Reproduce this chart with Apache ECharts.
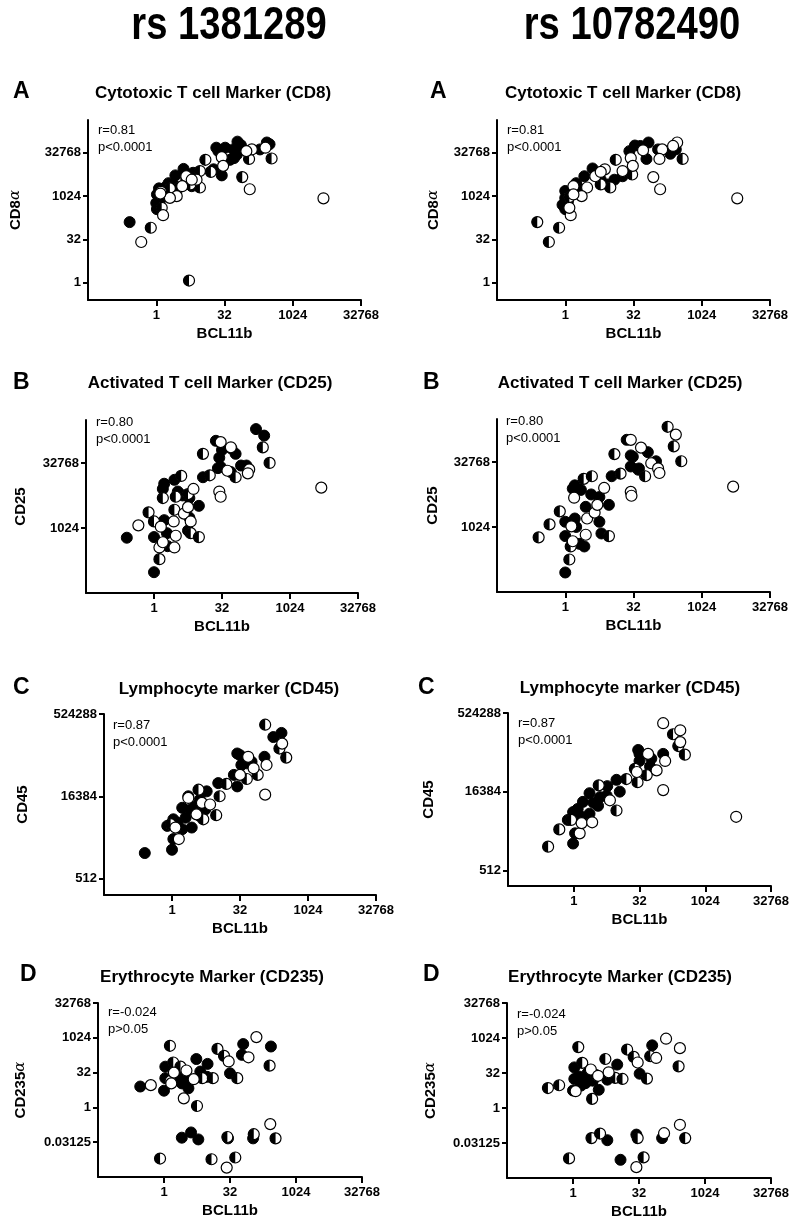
<!DOCTYPE html>
<html><head><meta charset="utf-8">
<script src="https://cdn.jsdelivr.net/npm/echarts@6/dist/echarts.min.js"></script>
<style>html,body{margin:0;padding:0;background:#fff}#c{width:800px;height:1228px}</style>
</head><body><div id="c"></div>
<script>
// All marker values are log2 of expression (axis labels show 2^value)
const snps = ['rs 1381289', 'rs 10782490'];
const panelLetters = ['A', 'B', 'C', 'D'];
const panelTitles = ['Cytotoxic T cell Marker (CD8)', 'Activated T cell Marker (CD25)', 'Lymphocyte marker (CD45)', 'Erythrocyte Marker (CD235)'];
const yNames = ['{b|CD8}{g|α}', '{b|CD25}', '{b|CD45}', '{b|CD235}{g|α}'];
const xName = 'BCL11b';
const stats = [['r=0.81', 'p<0.0001'], ['r=0.80', 'p<0.0001'], ['r=0.87', 'p<0.0001'], ['r=-0.024', 'p>0.05']];
const xTicks = [0, 5, 10, 15];
const yTicksA = [0, 5, 10, 15];
const yTicksB = [10, 15];
const yTicksC = [9, 14, 19];
const yTicksD = [-5, 0, 5, 10, 15];

// ---- A: CD8 ----
const A1_filled = [[-1.95,7.0],[4.8,12.4],[5.95,16.3],[8.1,16.2],[4.55,15.2],[5.05,15.6],[5.7,14.4],[5.65,15.4],[2.0,13.15],[1.4,12.4],[2.7,12.7],[0.3,10.6],[0.9,11.5],[0.65,11.0],[0.05,10.2],[0.0,9.2],[0.05,8.5],[0.25,9.4],[2.2,11.9],[2.6,11.15],[1.25,11.35],[4.2,13.1],[5.4,14.2],[5.9,14.8],[8.3,16.0],[4.4,15.6],[6.2,15.9],[0.5,10.0],[0.2,10.9],[1.0,10.4],[7.6,15.4]];
const A1_half = [[-0.4,6.35],[2.4,0.25],[6.3,12.2],[8.45,14.35],[3.6,14.2],[4.0,12.8],[3.2,12.9],[3.2,11.0],[1.65,11.0],[0.4,8.65],[2.5,11.35],[6.8,14.3],[1.0,10.9]];
const A1_open = [[-1.1,4.7],[12.25,9.75],[6.85,10.8],[7.0,15.4],[4.8,14.5],[4.9,13.5],[2.2,12.3],[2.95,11.9],[0.35,10.5],[1.5,10.0],[0.5,7.8],[1.0,9.8],[1.9,11.15],[2.6,11.9],[6.6,15.2],[8.0,15.6],[0.3,10.3]];
const A2_filled = [[6.1,16.2],[5.95,14.3],[7.7,14.9],[8.1,15.4],[6.8,15.4],[5.1,15.85],[4.7,15.2],[4.2,12.3],[3.6,11.9],[2.0,13.2],[1.4,12.3],[0.0,10.6],[0.0,9.8],[-0.2,9.0],[0.0,8.5],[0.8,11.5],[2.6,11.9],[3.1,11.35],[0.2,9.4],[0.5,10.4],[1.0,10.9],[5.5,15.8]];
const A2_half = [[-2.05,7.0],[-1.2,4.7],[-0.45,6.35],[8.6,14.3],[4.9,12.5],[3.7,14.2],[3.3,11.0],[2.6,11.35],[0.3,9.9]];
const A2_open = [[0.4,7.8],[12.6,9.75],[6.95,10.8],[6.45,12.2],[8.2,16.2],[7.1,15.4],[6.9,14.3],[5.7,15.3],[4.8,14.4],[4.95,13.5],[4.2,12.9],[2.9,13.1],[2.2,12.3],[0.6,11.15],[1.6,11.0],[1.2,10.0],[0.6,10.2],[2.6,12.8],[0.3,8.65],[7.9,15.8]];

// ---- B: CD25 ----
const B1_filled = [[-2.0,9.25],[0.0,6.6],[0.0,9.3],[0.75,10.6],[0.95,9.6],[0.65,13.0],[0.75,13.4],[1.5,13.7],[1.75,12.8],[2.1,12.5],[2.6,12.3],[2.6,10.8],[2.5,9.8],[3.3,11.7],[3.6,13.9],[4.55,16.7],[4.8,15.4],[4.9,14.7],[5.0,16.0],[5.7,16.1],[6.0,15.7],[5.65,14.3],[6.4,14.8],[6.8,14.8],[7.5,17.6],[8.1,17.1],[4.7,14.6],[1.0,8.6],[1.9,12.6]];
const B1_half = [[-0.4,11.2],[0.4,7.6],[0.0,10.5],[1.5,11.4],[0.65,12.3],[2.0,14.0],[2.5,12.6],[1.6,12.4],[2.7,9.6],[3.3,9.3],[3.6,15.7],[4.1,14.05],[6.0,13.9],[8.0,16.2],[8.5,15.0]];
const B1_open = [[-1.15,10.2],[0.4,8.5],[0.65,8.9],[0.5,10.1],[1.5,8.5],[1.6,9.4],[1.45,10.5],[2.2,11.1],[2.9,13.0],[2.5,11.6],[2.7,10.5],[4.9,16.6],[4.8,12.8],[4.9,12.4],[5.65,16.2],[5.4,14.4],[7.0,14.5],[6.9,14.2],[12.3,13.1]];
const B2_filled = [[0.0,6.5],[0.0,9.3],[0.0,10.4],[0.7,10.65],[0.8,10.0],[1.05,8.7],[1.4,8.5],[1.5,11.55],[0.7,13.2],[0.55,12.95],[1.15,12.85],[1.9,12.5],[2.5,12.3],[2.5,10.4],[2.65,9.5],[3.2,11.7],[3.4,13.9],[4.5,16.7],[4.8,15.5],[4.8,14.65],[5.4,14.5],[6.05,15.75],[6.65,15.05],[5.35,14.4],[4.95,15.4]];
const B2_half = [[-1.95,9.2],[-1.15,10.2],[-0.4,11.2],[0.3,7.5],[0.4,8.5],[1.35,13.7],[1.95,13.9],[3.2,9.3],[3.6,15.6],[4.05,14.1],[5.85,13.9],[7.5,17.7],[7.95,16.2],[8.5,15.05]];
const B2_open = [[0.55,8.9],[0.45,10.05],[1.5,9.4],[1.6,10.65],[2.15,11.1],[0.65,12.25],[2.85,13.0],[2.35,11.7],[4.8,16.7],[4.8,12.7],[4.85,12.4],[5.55,16.1],[6.3,14.9],[6.8,14.5],[6.9,14.15],[8.1,17.1],[12.3,13.1]];

// ---- C: CD45 ----
const C1_filled = [[-2.0,10.55],[0.0,10.75],[0.1,11.4],[-0.35,12.2],[0.1,12.6],[0.75,12.0],[0.75,13.3],[1.0,12.7],[1.45,12.1],[1.2,14.0],[1.7,13.4],[2.05,13.8],[2.55,14.3],[2.45,13.2],[3.4,14.8],[4.8,14.6],[4.55,15.3],[5.0,16.5],[4.8,16.6],[5.1,15.9],[5.5,16.0],[5.85,16.1],[6.8,16.4],[7.45,17.6],[8.05,17.85],[1.35,13.2],[2.05,12.8],[0.4,12.4]];
const C1_half = [[-0.1,12.3],[1.95,14.4],[2.3,12.6],[3.25,12.85],[3.5,14.0],[4.0,14.75],[5.5,15.05],[6.3,15.3],[6.85,18.35],[7.9,16.9],[8.4,16.35]];
const C1_open = [[0.5,11.4],[0.25,12.1],[1.2,13.9],[2.2,13.6],[2.8,13.5],[5.0,15.3],[5.6,16.4],[6.0,15.7],[6.95,15.9],[6.85,14.1],[8.1,17.2],[1.8,12.9]];
const C2_filled = [[-0.05,10.7],[0.1,11.35],[-0.45,12.2],[-0.05,12.7],[0.6,12.4],[1.2,12.6],[0.7,13.35],[1.2,13.9],[2.0,13.65],[2.5,13.75],[2.55,14.35],[1.85,13.1],[3.5,14.0],[3.25,14.75],[4.9,16.65],[5.0,16.4],[5.0,15.95],[5.9,16.1],[6.8,16.4],[5.8,15.6],[0.3,12.9],[1.5,13.3]];
const C2_half = [[-1.95,10.5],[-1.1,11.6],[-0.2,12.2],[1.9,14.4],[3.25,12.8],[4.0,14.8],[4.85,14.6],[4.65,15.45],[5.55,15.05],[7.55,17.65],[7.95,16.9],[8.45,16.35]];
const C2_open = [[0.45,11.35],[0.6,12.0],[1.4,12.05],[2.75,13.45],[4.8,15.25],[5.65,16.4],[6.95,15.95],[6.3,15.35],[6.8,14.1],[6.8,18.35],[8.1,17.9],[8.1,17.15],[12.35,12.4]];

// ---- D: CD235 ----
const D1_filled = [[-1.8,3.0],[0.1,5.85],[0.1,4.2],[0.0,2.4],[1.0,4.4],[1.35,3.45],[1.85,2.75],[1.6,4.2],[2.45,6.95],[2.75,5.15],[3.3,6.25],[3.25,4.4],[5.0,4.9],[6.0,9.1],[5.9,7.55],[8.1,8.75],[1.35,-4.35],[2.05,-3.6],[2.6,-4.6],[4.85,-4.45],[6.75,-4.45],[1.2,3.8]];
const D1_half = [[0.45,8.85],[0.7,6.45],[1.25,5.85],[2.5,0.2],[2.9,4.2],[3.7,4.2],[4.05,8.4],[4.55,7.4],[5.55,4.2],[8.0,6.0],[4.8,-4.25],[6.8,-3.85],[8.45,-4.45],[-0.3,-7.35],[3.6,-7.45],[5.4,-7.2]];
const D1_open = [[-1.0,3.2],[0.5,3.8],[0.75,5.0],[0.55,3.45],[1.5,1.3],[1.7,5.3],[2.25,4.05],[4.9,6.6],[6.4,7.2],[7.0,10.1],[8.05,-2.4],[4.75,-8.65]];
const D2_filled = [[0.1,5.8],[0.1,4.15],[0.0,2.5],[0.45,4.5],[0.95,3.55],[1.1,5.0],[1.95,2.6],[2.6,4.05],[3.35,6.2],[5.05,4.9],[6.0,8.95],[2.6,-4.6],[4.8,-3.8],[6.75,-4.3],[3.6,-7.4],[0.6,3.2],[1.5,3.9]];
const D2_half = [[-1.9,2.85],[-1.05,3.25],[0.4,8.7],[0.7,6.45],[1.45,1.3],[1.7,4.75],[2.45,7.0],[3.2,4.3],[3.75,4.15],[4.1,8.35],[4.6,7.3],[5.6,4.2],[5.85,7.4],[8.0,5.95],[1.4,-4.3],[2.05,-3.65],[4.9,-4.3],[8.5,-4.3],[-0.3,-7.2],[5.35,-7.05]];
const D2_open = [[0.2,2.4],[1.35,5.5],[2.7,5.1],[4.9,6.5],[6.3,7.15],[7.05,9.9],[8.1,8.55],[8.1,-2.4],[6.9,-3.6],[4.8,-8.45],[1.9,4.6]];

// ---- layout (positions only) ----
const panels = [
  {row:0, col:0, grid:{left:88, top:120, width:273, height:180}, y:[-2,18.8], yt:yTicksA, gap:65, letter:[13,92], title:[213,93], stat:[98,130], d:[A1_filled,A1_half,A1_open]},
  {row:0, col:1, grid:{left:497, top:120, width:273, height:180}, y:[-2,18.8], yt:yTicksA, gap:56, letter:[430,92], title:[623,93], stat:[507,130], d:[A2_filled,A2_half,A2_open]},
  {row:1, col:0, grid:{left:86, top:420, width:272, height:173}, y:[5,18.3], yt:yTicksB, gap:58, letter:[13,383], title:[210,383], stat:[96,422], d:[B1_filled,B1_half,B1_open]},
  {row:1, col:1, grid:{left:497, top:419, width:273, height:173}, y:[5,18.3], yt:yTicksB, gap:57, letter:[423,383], title:[620,383], stat:[506,421], d:[B2_filled,B2_half,B2_open]},
  {row:2, col:0, grid:{left:104, top:714, width:272, height:181}, y:[8,19], yt:yTicksC, gap:74, letter:[13,688], title:[229,689], stat:[113,725], d:[C1_filled,C1_half,C1_open]},
  {row:2, col:1, grid:{left:508, top:713, width:263, height:173}, y:[8,19], yt:yTicksC, gap:72, letter:[418,688], title:[630,688], stat:[518,723], d:[C2_filled,C2_half,C2_open]},
  {row:3, col:0, grid:{left:98, top:1003, width:264, height:174}, y:[-10,15], yt:yTicksD, gap:70, letter:[20,975], title:[212,977], stat:[108,1012], d:[D1_filled,D1_half,D1_open]},
  {row:3, col:1, grid:{left:507, top:1003, width:264, height:175}, y:[-10,15], yt:yTicksD, gap:69, letter:[423,975], title:[620,977], stat:[517,1014], d:[D2_filled,D2_half,D2_open]}
];
const headerPos = [[229,26],[632,26]];

const FONT = '"Liberation Sans", Arial, sans-serif';
const pow2 = v => String(Math.pow(2, v));
const R = 5.5;

const grids = [], xAxes = [], yAxes = [], series = [], graphics = [];
panels.forEach((p, i) => {
  grids.push(Object.assign({}, p.grid));
  const axLine = {show:true, onZero:false, lineStyle:{color:'#000', width:2}};
  xAxes.push({
    gridIndex:i, type:'value', min:-5, max:15,
    axisLine:axLine,
    axisTick:{show:true, customValues:xTicks, length:6, lineStyle:{color:'#000', width:2}},
    axisLabel:{customValues:xTicks, formatter:pow2, color:'#000', fontWeight:'bold', fontSize:13, fontFamily:FONT, margin:9},
    splitLine:{show:false},
    name:xName, nameLocation:'middle', nameGap:26,
    nameTextStyle:{color:'#000', fontWeight:'bold', fontSize:15, fontFamily:FONT}
  });
  yAxes.push({
    gridIndex:i, type:'value', min:p.y[0], max:p.y[1],
    axisLine:axLine,
    axisTick:{show:true, customValues:p.yt, length:5, lineStyle:{color:'#000', width:2}},
    axisLabel:{customValues:p.yt, formatter:pow2, color:'#000', fontWeight:'bold', fontSize:13, fontFamily:FONT, margin:7},
    splitLine:{show:false},
    name:yNames[p.row], nameLocation:'middle', nameGap:p.gap,
    nameTextStyle:{color:'#000', fontFamily:FONT, rich:{
      b:{fontWeight:'bold', fontSize:15, fontFamily:FONT, color:'#000'},
      g:{fontWeight:'normal', fontStyle:'italic', fontSize:15, fontFamily:'"DejaVu Serif", serif', color:'#000'}}}
  });
  series.push({type:'scatter', xAxisIndex:i, yAxisIndex:i, data:p.d[0], symbol:'circle', symbolSize:R*2,
    itemStyle:{color:'#000', borderColor:'#000', borderWidth:1, opacity:1}, z:3});
  series.push({type:'custom', coordinateSystem:'cartesian2d', xAxisIndex:i, yAxisIndex:i, data:p.d[1], z:4,
    renderItem:(params, api) => {
      const c = api.coord([api.value(0), api.value(1)]);
      return {type:'group', children:[
        {type:'circle', shape:{cx:c[0], cy:c[1], r:R}, style:{fill:'#fff', stroke:'#000', lineWidth:1.2}},
        {type:'sector', shape:{cx:c[0], cy:c[1], r0:0, r:R, startAngle:Math.PI/2, endAngle:Math.PI*3/2}, style:{fill:'#000'}}
      ]};
    }});
  series.push({type:'scatter', xAxisIndex:i, yAxisIndex:i, data:p.d[2], symbol:'circle', symbolSize:R*2,
    itemStyle:{color:'#fff', borderColor:'#000', borderWidth:1.2, opacity:1}, z:5});
  graphics.push({type:'text', x:p.letter[0], y:p.letter[1], style:{text:panelLetters[p.row], fill:'#000', font:'bold 23px ' + FONT, textAlign:'left', textVerticalAlign:'middle'}});
  graphics.push({type:'text', x:p.title[0], y:p.title[1], style:{text:panelTitles[p.row], fill:'#000', font:'bold 17px ' + FONT, textAlign:'center', textVerticalAlign:'middle'}});
  graphics.push({type:'text', x:p.stat[0], y:p.stat[1], style:{text:stats[p.row][0], fill:'#000', font:'13px ' + FONT, textAlign:'left', textVerticalAlign:'middle'}});
  graphics.push({type:'text', x:p.stat[0], y:p.stat[1] + 17, style:{text:stats[p.row][1], fill:'#000', font:'13px ' + FONT, textAlign:'left', textVerticalAlign:'middle'}});
});
snps.forEach((s, j) => {
  graphics.push({type:'text', x:headerPos[j][0], y:headerPos[j][1], scaleX:0.83, style:{text:s, fill:'#000', font:'bold 46px ' + FONT, textAlign:'center', textVerticalAlign:'middle'}});
});

const chart = echarts.init(document.getElementById('c'), null, {renderer:'canvas'});
chart.setOption({animation:false, backgroundColor:'#fff', grid:grids, xAxis:xAxes, yAxis:yAxes, series:series, graphic:graphics});
</script></body></html>
